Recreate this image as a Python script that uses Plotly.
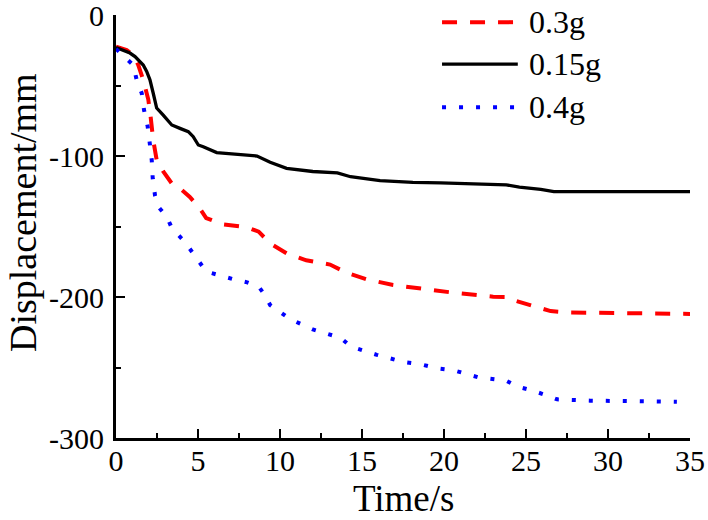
import plotly.graph_objects as go

# 0.15g (black solid)
t_015 = [0, 0.85, 1.16, 1.46, 1.66, 1.87, 2.07, 2.27, 2.48, 2.88, 3.4, 3.9, 4.41, 4.71, 5.02, 5.32,
         6.14, 8.6, 9.4, 10.4, 12.0, 13.5, 14.3, 16.1, 18.1, 19.8, 23.8, 24.6, 25.9, 26.7, 35]
d_015 = [-23, -27, -29.5, -33, -35.5, -40, -46, -55.5, -66, -71, -78, -80.4, -82.7, -86.3, -92.2, -93.4,
         -97.6, -100, -104.5, -108.7, -111, -112, -114.7, -117.5, -118.7, -119, -120.5, -122, -123.6, -125.3, -125.3]

# 0.3g (red dashed)
t_03 = [0, 0.65, 1.05, 1.36, 1.66, 1.97, 2.11, 2.27, 2.48, 2.88, 3.4, 3.9, 4.5, 5.1, 5.5, 6.5, 8.0, 8.7,
        9.4, 10.4, 11.6, 13.05, 14.1, 15.3, 16.9, 18.5, 19.6, 20.6, 23.0, 23.9, 24.4, 25.4, 26.5, 27.7, 35]
d_03 = [-22.5, -24.8, -28.4, -35.5, -46, -60, -72, -88.7, -102.8, -111, -119.4, -123, -129, -137, -144, -148.5, -150.6, -153.7,
        -162, -169, -174, -177, -183, -187.5, -191.5, -194, -195.5, -197, -199.8, -200, -202.8, -206, -210, -211, -212]

# 0.4g (blue dotted)
t_04 = [0, 0.55, 1.05, 1.26, 1.57, 1.71, 1.93, 2.07, 2.18, 2.24, 2.38, 2.58, 3.09, 3.4, 4.2, 4.7, 5.5, 7.2,
        8.0, 8.7, 9.0, 9.4, 10.6, 12.0, 13.7, 14.3, 15.9, 17.5, 18.5, 19.6, 20.6, 22.1, 23.2, 23.8, 24.5,
        25.3, 26.2, 26.9, 28.9, 34.2]
d_04 = [-24, -29.6, -35.5, -46, -55.5, -67.4, -79, -92, -103, -116, -128, -136, -143, -151, -161, -169, -182, -187.5,
        -189.6, -192.7, -197.4, -205.7, -215.6, -223, -229, -235, -241, -246, -247.5, -250.6, -252, -257, -259, -259.4, -263.6,
        -266, -269.5, -272.6, -273.5, -274.3]

x_ticks = [0, 5, 10, 15, 20, 25, 30, 35]
y_ticks = [0, -100, -200, -300]
y_ticktext = ["0", "-100", "-200", "-300"]

names = ["0.3g", "0.15g", "0.4g"]
colors = ["#ff0000", "#000000", "#0000ff"]
dashes = ["15px,13px", "solid", "4px,13px"]
widths = [4, 3.3, 4]
series = [(t_03, d_03), (t_015, d_015), (t_04, d_04)]

FONT = "Liberation Serif, Times New Roman, serif"

fig = go.Figure()
for (t, d), nm, c, ds, w in zip(series, names, colors, dashes, widths):
    fig.add_trace(go.Scatter(x=t, y=d, mode="lines", name=nm, showlegend=False,
                             line=dict(color=c, width=w, dash=ds)))

# hand-drawn legend (long samples like the original)
leg_y = [0.983, 0.884, 0.782]
for nm, c, ds, w, yy in zip(names, colors, dashes, widths, leg_y):
    fig.add_shape(type="line", xref="paper", yref="paper", x0=0.568, x1=0.70, y0=yy, y1=yy,
                  line=dict(color=c, width=w, dash=ds))
    fig.add_annotation(x=0.716, y=yy, xref="paper", yref="paper", text=nm, showarrow=False,
                       xanchor="left", yanchor="middle", font=dict(size=32, color="black", family=FONT))

# axis titles as annotations so they sit where the original has them
fig.add_annotation(x=-0.162, y=0.532, xref="paper", yref="paper", text="Displacement/mm",
                   textangle=-90, showarrow=False, xanchor="center", yanchor="middle",
                   font=dict(size=38, family=FONT, color="black"))
fig.add_annotation(x=0.5, y=-0.1939, xref="paper", yref="paper", text="Time/s",
                   showarrow=False, xanchor="center", yanchor="bottom", borderpad=0,
                   font=dict(size=37, family=FONT, color="black"))

fig.update_xaxes(range=[0, 35], tickvals=x_ticks, ticks="inside", ticklen=9, tickwidth=2,
                 tickcolor="black", showline=True, linewidth=3, linecolor="black", showgrid=False,
                 zeroline=False, tickfont=dict(size=30, family=FONT, color="black"),
                 automargin=False, ticklabeloverflow="allow", ticklabelstandoff=-6,
                 minor=dict(dtick=2.5, ticks="inside", ticklen=5, tickwidth=2, tickcolor="black"))
fig.update_yaxes(range=[-300, 0], tickvals=y_ticks, ticktext=y_ticktext, ticks="inside", ticklen=9,
                 tickwidth=2, tickcolor="black", showline=True, linewidth=3, linecolor="black",
                 showgrid=False, zeroline=False, tickfont=dict(size=30, family=FONT, color="black"),
                 automargin=False, ticklabeloverflow="allow", ticklabelstandoff=3,
                 minor=dict(dtick=50, ticks="inside", ticklen=5, tickwidth=2, tickcolor="black"))

fig.update_layout(width=708, height=520, margin=dict(l=116, r=18, t=15, b=82),
                  plot_bgcolor="white", paper_bgcolor="white", font=dict(family=FONT))

fig.write_html("out.html", config={"displayModeBar": False},
               post_script="document.body.style.margin='0';")
